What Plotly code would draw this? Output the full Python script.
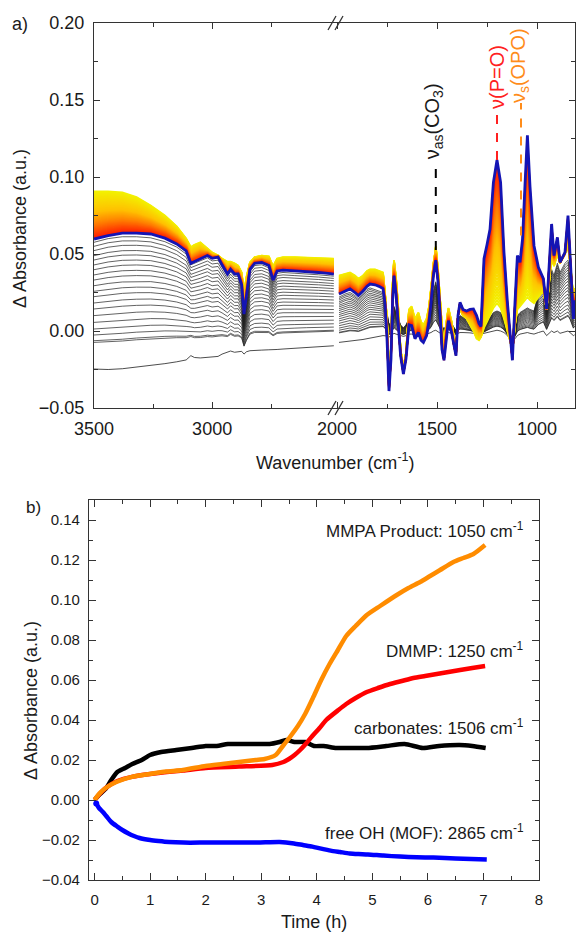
import numpy as np
import plotly.graph_objects as go
from plotly.colors import sample_colorscale

W, H = 577, 933

# ---------------- Panel a data ----------------
wn_left = [3500, 3440, 3380, 3320, 3260, 3200, 3150, 3110, 3090, 3075, 3050, 3020, 3000, 2975,
           2958, 2935, 2922, 2905, 2890, 2875, 2865, 2855, 2840, 2820, 2790, 2760, 2742, 2725,
           2700, 2650, 2600, 2550, 2500, 2485]
blue_left = [0.0597, 0.0620, 0.0635, 0.0636, 0.0630, 0.0603, 0.0565, 0.0520, 0.0440, 0.0450, 0.0468,
             0.0490, 0.0472, 0.0480, 0.0430, 0.0370, 0.0400, 0.0370, 0.0370, 0.0300, 0.0110, 0.0230,
             0.0400, 0.0440, 0.0445, 0.0425, 0.0330, 0.0390, 0.0395, 0.0390, 0.0387, 0.0380, 0.0372, 0.0370]
yellow_left = [0.0907, 0.0907, 0.0900, 0.0870, 0.0815, 0.0750, 0.0680, 0.0600, 0.0545, 0.0560, 0.0576,
               0.0535, 0.0510, 0.0490, 0.0470, 0.0450, 0.0450, 0.0440, 0.0425, 0.0380, 0.0250, 0.0350,
               0.0445, 0.0480, 0.0490, 0.0485, 0.0420, 0.0470, 0.0480, 0.0480, 0.0478, 0.0475, 0.0470, 0.0470]
lastblack_left = [0.0576, 0.0600, 0.0612, 0.0612, 0.0605, 0.0580, 0.0545, 0.0500, 0.0430, 0.0440, 0.0455,
                  0.0475, 0.0455, 0.0460, 0.0415, 0.0355, 0.0385, 0.0355, 0.0355, 0.0285, 0.0095, 0.0215,
                  0.0385, 0.0425, 0.0430, 0.0410, 0.0315, 0.0375, 0.0380, 0.0375, 0.0372, 0.0365, 0.0358, 0.0356]
first_left = [-0.0247, -0.0250, -0.0245, -0.0235, -0.0225, -0.0212, -0.0200, -0.0188, -0.0160, -0.0172,
              -0.0175, -0.0172, -0.0170, -0.0165, -0.0150, -0.0140, -0.0130, -0.0138, -0.0135, -0.0132,
              -0.0150, -0.0135, -0.0128, -0.0125, -0.0124, -0.0122, -0.0123, -0.0120, -0.0117, -0.0112,
              -0.0107, -0.0102, -0.0097, -0.0096]

wn_right = [1990, 1960, 1935, 1910, 1893, 1870, 1850, 1835, 1810, 1790, 1770, 1760, 1750, 1740, 1730,
            1722, 1715, 1705, 1695, 1682, 1668, 1655, 1640, 1627, 1610, 1593, 1580, 1568, 1552, 1540,
            1530, 1518, 1506, 1495, 1485, 1475, 1465, 1455, 1443, 1427, 1415, 1405, 1395, 1385, 1370,
            1352, 1335, 1318, 1302, 1290, 1280, 1265, 1250, 1235, 1218, 1200, 1182, 1165, 1148, 1135,
            1123, 1110, 1098, 1085, 1072, 1060, 1048, 1035, 1015, 993, 968, 952, 938, 927, 915, 898,
            885, 870, 860, 845, 835, 827, 818, 812]
blue_right = [0.024, 0.026, 0.0273, 0.025, 0.023, 0.026, 0.029, 0.0305, 0.030, 0.029, 0.0275, 0.018,
              -0.005, -0.039, -0.018, 0.020, 0.036, 0.024, 0.005, -0.016, -0.028, -0.018, 0.004, 0.0035,
              -0.005, -0.001, -0.006, -0.0074, -0.003, 0.006, 0.018, 0.036, 0.046, 0.032, 0.012, -0.012,
              -0.019, -0.005, 0.0067, -0.001, -0.010, -0.016, 0.010, 0.0186, 0.014, 0.013, 0.014, 0.0143,
              0.010, 0.005, 0.003, 0.047, 0.056, 0.066, 0.0965, 0.111, 0.0965, 0.051, 0.0186, -0.003,
              -0.019, 0.0186, 0.049, 0.0446, 0.060, 0.095, 0.127, 0.094, 0.0554, 0.0413, 0.034, 0.0143,
              0.049, 0.0695, 0.049, 0.0608, 0.0446, 0.048, 0.051, 0.075, 0.050, 0.0294, 0.0078, 0.020]
yellow_right = [0.036, 0.037, 0.038, 0.036, 0.034, 0.036, 0.039, 0.040, 0.040, 0.039, 0.038, 0.025,
                0.008, -0.030, -0.010, 0.030, 0.046, 0.035, 0.018, -0.012, -0.024, -0.014, 0.014, 0.016,
                0.008, 0.012, 0.006, 0.004, 0.008, 0.016, 0.028, 0.045, 0.055, 0.040, 0.022, 0.000,
                -0.016, 0.004, 0.015, 0.006, -0.006, -0.013, 0.010, 0.014, 0.010, 0.008, 0.004, 0.000,
                -0.005, -0.006, -0.004, 0.002, 0.006, 0.010, 0.015, 0.018, 0.015, 0.008, 0.000, -0.006,
                -0.012, 0.004, 0.014, 0.016, 0.018, 0.020, 0.022, 0.020, 0.018, 0.022, 0.026, 0.014,
                0.035, 0.048, 0.042, 0.050, 0.044, 0.048, 0.050, 0.054, 0.046, 0.034, 0.022, 0.028]
lastblack_right = [0.022, 0.024, 0.025, 0.023, 0.021, 0.024, 0.027, 0.028, 0.027, 0.026, 0.025, 0.020,
                   0.012, 0.004, 0.006, 0.012, 0.016, 0.012, 0.008, 0.004, 0.002, 0.004, 0.008, 0.009,
                   0.006, 0.008, 0.005, 0.004, 0.006, 0.010, 0.016, 0.026, 0.032, 0.024, 0.014, 0.004,
                   0.000, 0.004, 0.008, 0.005, 0.002, 0.000, 0.008, 0.010, 0.009, 0.008, 0.006, 0.004,
                   0.001, 0.000, 0.000, 0.003, 0.006, 0.009, 0.012, 0.013, 0.012, 0.008, 0.002, -0.003,
                   -0.006, 0.003, 0.010, 0.012, 0.013, 0.014, 0.015, 0.014, 0.013, 0.024, 0.028, 0.016,
                   0.030, 0.040, 0.036, 0.044, 0.038, 0.042, 0.044, 0.046, 0.040, 0.030, 0.020, 0.024]
first_right = [-0.0074, -0.0070, -0.0065, -0.0062, -0.0060, -0.0055, -0.0050, -0.0045, -0.0040, -0.0035,
               -0.0030, -0.0030, -0.0032, -0.0040, -0.0030, -0.0020, -0.0015, -0.0020, -0.0025, -0.0030,
               -0.0035, -0.0030, -0.0020, -0.0020, -0.0025, -0.0020, -0.0025, -0.0025, -0.0020, -0.0015,
               -0.0010, 0.0000, 0.0005, -0.0005, -0.0015, -0.0025, -0.0030, -0.0020, -0.0010, -0.0015,
               -0.0020, -0.0025, -0.0015, -0.0010, -0.0010, -0.0010, -0.0012, -0.0015, -0.0018, -0.0020,
               -0.0020, -0.0015, -0.0010, -0.0005, 0.0000, 0.0005, 0.0000, -0.0010, -0.0030, -0.0050,
               -0.0070, -0.0050, -0.0030, -0.0020, -0.0015, -0.0010, -0.0010, -0.0015, -0.0020, -0.0010,
               0.0000, -0.0030, -0.0010, 0.0000, -0.0010, 0.0000, -0.0015, -0.0010, -0.0005, 0.0000,
               -0.0010, -0.0020, -0.0030, -0.0025]

# levels of the black spectra at 3500 cm-1 (read from the stack)
black_levels_3500 = [-0.0074, -0.0063, -0.0026, 0.0013, 0.0056, 0.0100, 0.0143, 0.0182, 0.0223, 0.0258,
                     0.0294, 0.0331, 0.0364, 0.0398, 0.0429, 0.0461, 0.0489, 0.0522, 0.0550, 0.0576]
n_colour_spectra = 45

# ---------------- Panel b data ----------------
t_carb = [0, 0.1, 0.21, 0.3, 0.41, 0.55, 0.68, 0.85, 1.0, 1.2, 1.47, 1.75, 2.0, 2.2, 2.4, 2.7, 2.93,
          3.15, 3.33, 3.46, 3.6, 3.79, 3.95, 4.12, 4.35, 4.59, 4.9, 5.25, 5.58, 5.91, 6.2, 6.57, 6.8, 7.04]
v_carb = [0, 0.003, 0.006, 0.010, 0.014, 0.016, 0.018, 0.020, 0.0225, 0.024, 0.025, 0.026, 0.027, 0.027,
          0.028, 0.028, 0.028, 0.028, 0.029, 0.030, 0.029, 0.029, 0.027, 0.027, 0.026, 0.026, 0.026,
          0.027, 0.028, 0.026, 0.027, 0.0275, 0.027, 0.026]
t_mmpa = [0, 0.09, 0.2, 0.39, 0.69, 0.99, 1.29, 1.59, 2.0, 2.3, 2.6, 2.9, 3.06, 3.26, 3.39, 3.53, 3.66,
          3.79, 3.93, 4.08, 4.23, 4.38, 4.53, 4.7, 4.9, 5.14, 5.44, 5.65, 5.86, 6.04, 6.22, 6.46, 6.64,
          6.82, 7.03]
v_mmpa = [0, 0.0033, 0.006, 0.009, 0.0117, 0.013, 0.0142, 0.015, 0.017, 0.018, 0.019, 0.020, 0.0205,
          0.0225, 0.027, 0.032, 0.037, 0.043, 0.051, 0.060, 0.068, 0.075, 0.082, 0.087, 0.0925, 0.097,
          0.1025, 0.106, 0.109, 0.112, 0.115, 0.119, 0.121, 0.123, 0.1275]
t_dmmp = [0, 0.09, 0.2, 0.41, 0.69, 1.0, 1.3, 1.6, 2.0, 2.6, 3.2, 3.4, 3.5, 3.6, 3.7, 3.8, 3.92, 4.05,
          4.17, 4.39, 4.53, 4.7, 4.9, 5.1, 5.32, 5.53, 5.74, 5.95, 6.16, 6.37, 6.58, 6.8, 7.03]
v_dmmp = [0, 0.003, 0.006, 0.0095, 0.0117, 0.013, 0.014, 0.0148, 0.016, 0.0167, 0.0175, 0.019, 0.0205,
          0.0225, 0.025, 0.028, 0.032, 0.036, 0.040, 0.045, 0.048, 0.051, 0.054, 0.056, 0.058, 0.0595,
          0.061, 0.062, 0.063, 0.064, 0.065, 0.066, 0.067]
t_oh = [0.03, 0.08, 0.15, 0.21, 0.3, 0.41, 0.5, 0.61, 0.71, 0.81, 1.0, 1.15, 1.34, 1.6, 2.0, 2.5, 2.93,
        3.33, 3.59, 3.75, 3.92, 4.08, 4.25, 4.42, 4.59, 4.75, 4.92, 5.2, 5.5, 5.8, 6.1, 6.5, 7.06]
v_oh = [-0.0017, -0.004, -0.006, -0.008, -0.011, -0.0133, -0.015, -0.0167, -0.018, -0.019, -0.020,
        -0.0205, -0.021, -0.0213, -0.0213, -0.0213, -0.0213, -0.021, -0.0217, -0.0225, -0.0233, -0.0243,
        -0.0253, -0.026, -0.0267, -0.027, -0.0272, -0.0278, -0.0283, -0.0286, -0.0288, -0.0292, -0.0297]

FONT = "Liberation Sans, Arial, sans-serif"
AX = '#333333'
TXT = '#1a1a1a'
fig = go.Figure()

colour_scale = [[0.0, '#F2F200'], [0.45, '#FFC000'], [0.72, '#FF7A00'], [1.0, '#FF2000']]


def add_segment(wn, k0, k1, yel, blu, xa, ya):
    k0, k1, yel, blu = map(np.asarray, (k0, k1, yel, blu))
    base0, base1 = first_left[0], lastblack_left[0]
    fig.add_trace(go.Scatter(x=wn, y=k0, mode='lines', line=dict(color='#202020', width=0.8),
                             xaxis=xa, yaxis=ya, showlegend=False, hoverinfo='skip'))
    for lev in black_levels_3500:
        w = (lev - base0) / (base1 - base0)
        fig.add_trace(go.Scatter(x=wn, y=k0 + w * (k1 - k0), mode='lines',
                                 line=dict(color='#202020', width=0.7),
                                 xaxis=xa, yaxis=ya, showlegend=False, hoverinfo='skip'))
    cols = sample_colorscale(colour_scale, [j / (n_colour_spectra - 1) for j in range(n_colour_spectra)])
    for j in range(n_colour_spectra):
        f = j / n_colour_spectra
        fig.add_trace(go.Scatter(x=wn, y=yel + f * (blu - yel), mode='lines',
                                 line=dict(color=cols[j], width=1.8),
                                 xaxis=xa, yaxis=ya, showlegend=False, hoverinfo='skip'))
    fig.add_trace(go.Scatter(x=wn, y=blu, mode='lines', line=dict(color='#1414B4', width=2.8),
                             xaxis=xa, yaxis=ya, showlegend=False, hoverinfo='skip'))


add_segment(wn_left, first_left, lastblack_left, yellow_left, blue_left, 'x', 'y')
add_segment(wn_right, first_right, lastblack_right, yellow_right, blue_right, 'x2', 'y2')

for t, v, c in [(t_carb, v_carb, '#000000'), (t_dmmp, v_dmmp, '#FF0000'),
                (t_mmpa, v_mmpa, '#FF8C00'), (t_oh, v_oh, '#0000FF')]:
    fig.add_trace(go.Scatter(x=t, y=v, mode='lines', line=dict(color=c, width=4.5, shape='spline',
                                                               smoothing=0.6),
                             xaxis='x3', yaxis='y3', showlegend=False, hoverinfo='skip'))
fig.add_trace(go.Scatter(x=[t_oh[0]], y=[v_oh[0]], mode='markers', marker=dict(color='#0000FF', size=6),
                         xaxis='x3', yaxis='y3', showlegend=False, hoverinfo='skip'))


def px2x(px):
    return px / W


def py2y(py):
    return 1 - py / H


common = dict(showline=True, linecolor=AX, linewidth=1.3, ticks='inside', tickcolor=AX, tickwidth=1.2,
              showgrid=False, zeroline=False, automargin=False)
fa = dict(family=FONT, size=18, color=TXT)
fb = dict(family=FONT, size=15, color=TXT)

ya_dom = [py2y(408), py2y(23)]
yb_dom = [py2y(880), py2y(500)]
xbreak = 335

fig.update_layout(
    width=W, height=H, margin=dict(l=0, r=0, t=0, b=0, autoexpand=False), autosize=False,
    paper_bgcolor='white', plot_bgcolor='rgba(0,0,0,0)', showlegend=False,
    font=dict(family=FONT),
    xaxis=dict(domain=[px2x(94), px2x(xbreak)], range=[3500, 2480], anchor='y', mirror='ticks',
               tickmode='array', tickvals=[3500, 3000], ticktext=['3500', '3000'], ticklen=6,
               minor=dict(tickmode='array', tickvals=[3250, 2750], ticks='inside', ticklen=4, tickcolor=AX),
               tickfont=fa, ticklabelstandoff=4, **common),
    xaxis2=dict(domain=[px2x(xbreak), px2x(575)], range=[2010, 810], anchor='y2', mirror='ticks',
                tickmode='array', tickvals=[2000, 1500, 1000], ticktext=['2000', '1500', '1000'], ticklen=6,
                minor=dict(tickmode='array', tickvals=[1750, 1250], ticks='inside', ticklen=4, tickcolor=AX),
                tickfont=fa, ticklabelstandoff=4, **common),
    yaxis=dict(domain=ya_dom, range=[-0.05, 0.20], anchor='x', dtick=0.05, tickformat='.2f', ticklen=6,
               minor=dict(dtick=0.025, ticks='inside', ticklen=4, tickcolor=AX),
               tickfont=fa, ticklabelstandoff=5, **common),
    yaxis2=dict(domain=ya_dom, range=[-0.05, 0.20], anchor='x2', side='right', dtick=0.05,
                showticklabels=False, ticklen=6,
                minor=dict(dtick=0.025, ticks='inside', ticklen=4, tickcolor=AX), **common),
    xaxis3=dict(domain=[px2x(89), px2x(539)], range=[-0.1, 8], anchor='y3', mirror='ticks', dtick=1,
                ticklen=7, minor=dict(dtick=0.5, ticks='inside', ticklen=4, tickcolor=AX),
                tickfont=fb, ticklabelstandoff=6, **common),
    yaxis3=dict(domain=yb_dom, range=[-0.04, 0.15], anchor='x3', mirror='ticks', dtick=0.02,
                tickformat='.2f', ticklen=7, minor=dict(dtick=0.01, ticks='inside', ticklen=4, tickcolor=AX),
                tickfont=fb, ticklabelstandoff=5, **common),
)

shapes = []
for pyc in (23, 408):
    for dx in (0, 7):
        shapes.append(dict(type='line', xref='paper', yref='paper',
                           x0=px2x(xbreak - 7 + dx), y0=py2y(pyc + 7), x1=px2x(xbreak + 1 + dx), y1=py2y(pyc - 7),
                           line=dict(color=AX, width=1.3)))
shapes.append(dict(type='line', xref='x2', yref='y2', x0=1506, x1=1506, y0=0.0526, y1=0.1065,
                   line=dict(color='#000000', width=2, dash='dash')))
shapes.append(dict(type='line', xref='x2', yref='y2', x0=1200, x1=1200, y0=0.111, y1=0.1435,
                   line=dict(color='#FF2020', width=2, dash='dash')))
shapes.append(dict(type='line', xref='x2', yref='y2', x0=1080, x1=1080, y0=0.062, y1=0.148,
                   line=dict(color='#FF8C1A', width=2, dash='dash')))
fig.update_layout(shapes=shapes)


def pann(px, py, text, size, angle=0, xanchor='center'):
    return dict(xref='paper', yref='paper', x=px2x(px), y=py2y(py), text=text, showarrow=False,
                xanchor=xanchor, yanchor='middle', textangle=angle,
                font=dict(family=FONT, size=size, color=TXT))


ann = [
    pann(20, 24, 'a)', 18),
    pann(33, 507, 'b)', 17),
    pann(20, 229, '\u0394 Absorbance (a.u.)', 18, angle=-90),
    pann(335, 462, 'Wavenumber (cm<sup>-1</sup>)', 18),
    pann(31, 701, '\u0394 Absorbance (a.u.)', 18, angle=-90),
    pann(314, 922, 'Time (h)', 18),
]
ann.append(dict(xref='x2', yref='y2', x=1506, y=0.136, text='\u03bd<sub>as</sub>(CO<sub>3</sub>)',
                textangle=-90, showarrow=False, xshift=-2, xanchor='center', yanchor='middle',
                font=dict(family=FONT, size=20, color=TXT)))
ann.append(dict(xref='x2', yref='y2', x=1200, y=0.165, text='\u03bd(P=O)', xanchor='center', yanchor='middle',
                textangle=-90, showarrow=False, font=dict(family=FONT, size=20, color='#FF2020')))
ann.append(dict(xref='x2', yref='y2', x=1080, y=0.172, text='\u03bd<sub>s</sub>(OPO)', xanchor='center',
                yanchor='middle', textangle=-90, showarrow=False, xshift=-2,
                font=dict(family=FONT, size=20, color='#FF8C1A')))
for txt, pyc in [('MMPA Product: 1050 cm<sup>-1</sup>', 530), ('DMMP: 1250 cm<sup>-1</sup>', 650),
                 ('carbonates: 1506 cm<sup>-1</sup>', 727), ('free OH (MOF): 2865 cm<sup>-1</sup>', 832)]:
    ann.append(pann(526, pyc, txt, 17, xanchor='right'))
fig.update_layout(annotations=ann)

fig.write_html("out.html")
